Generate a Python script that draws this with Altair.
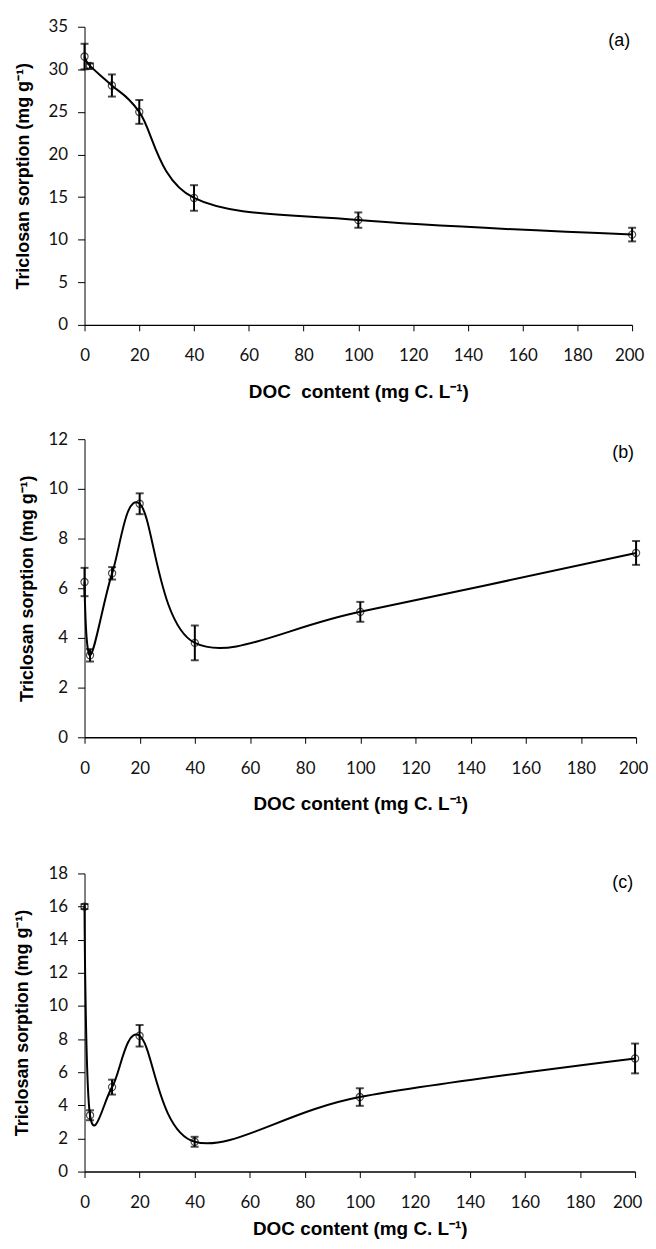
import altair as alt
import pandas as pd

# DOC content (mg C L-1)
doc = [0, 2, 10, 20, 40, 100, 200]

# Panel (a)
a_mean = [31.5, 30.4, 28.1, 25.0, 14.9, 12.3, 10.6]
a_err = [1.5, 0.3, 1.3, 1.4, 1.5, 0.9, 0.8]

# Panel (b)
b_mean = [6.25, 3.3, 6.6, 9.4, 3.8, 5.05, 7.42]
b_err = [0.57, 0.25, 0.25, 0.42, 0.7, 0.4, 0.48]

# Panel (c)
c_mean = [16.0, 3.4, 5.1, 8.2, 1.8, 4.5, 6.83]
c_err = [0.15, 0.3, 0.45, 0.65, 0.3, 0.53, 0.9]

x_ticks = [0, 20, 40, 60, 80, 100, 120, 140, 160, 180, 200]

Y_TITLE = "Triclosan sorption (mg g\u207b\u00b9)"
X_TITLE_A = "DOC\u00a0 content (mg C. L\u207b\u00b9)"
X_TITLE = "DOC content (mg C. L\u207b\u00b9)"

LABEL_FONT = "Lato"
TITLE_FONT = "Liberation Sans"


def panel(mean, err, ymax, ystep, width, tag, xtitle, ytitle_pad,
          last_shift, xtitle_pad=19, extend_top=None, tag_y=14):
    df = pd.DataFrame({"doc": doc, "mean": mean, "err": err})
    df["lo"] = df["mean"] - df["err"]
    df["hi"] = df["mean"] + df["err"]
    base = alt.Chart(df)

    xscale = alt.Scale(domain=[0, 200], nice=False, zero=False)
    yscale = alt.Scale(domain=[0, ymax], nice=False)
    xaxis = alt.Axis(
        values=x_ticks, title=xtitle, grid=False, tickSize=6,
        labelPadding=17, titlePadding=xtitle_pad, domainWidth=1.5,
        labelFlush=False, titleFontSize=19,
        labelOffset={"condition": {"test": "datum.value == 200",
                                   "value": -last_shift},
                     "value": 0},
    )
    yaxis = alt.Axis(
        values=list(range(0, ymax + 1, ystep)), title=Y_TITLE, grid=False,
        tickSize=7, labelPadding=10, titlePadding=ytitle_pad,
        labelFlush=False, titleFontSize=18,
    )
    x = alt.X("doc:Q", scale=xscale, axis=xaxis)

    def y(f):
        return alt.Y(f"{f}:Q", scale=yscale, axis=yaxis)

    line = base.mark_line(
        interpolate="cardinal", color="black", strokeWidth=2
    ).encode(x=x, y=y("mean"))
    rules = base.mark_rule(color="black", strokeWidth=2).encode(
        x=x, y=y("lo"), y2="hi:Q"
    )
    caps_hi = base.mark_tick(
        orient="horizontal", color="black", size=8, thickness=2
    ).encode(x=x, y=y("hi"))
    caps_lo = base.mark_tick(
        orient="horizontal", color="black", size=8, thickness=2
    ).encode(x=x, y=y("lo"))
    pts = base.mark_point(
        shape="circle", filled=False, color="black", size=52, strokeWidth=1.2
    ).encode(x=x, y=y("mean"))

    lab = alt.Chart(pd.DataFrame({"t": [tag]})).mark_text(
        align="right", baseline="middle", font="Liberation Sans",
        fontSize=18, color="black",
    ).encode(text="t:N", x=alt.value(width - 2), y=alt.value(tag_y))

    layers = [line, rules, caps_hi, caps_lo, pts, lab]
    if extend_top is not None:
        ghost = alt.Chart(pd.DataFrame({"t": ["."]})).mark_text(
            baseline="top", fontSize=10, opacity=0
        ).encode(text="t:N", x=alt.value(width / 2), y=alt.value(-extend_top))
        layers.append(ghost)

    return alt.layer(*layers).properties(width=width, height=300)


pa = panel(a_mean, a_err, 35, 5, 551, "(a)", X_TITLE_A, 15.5, 3, tag_y=14)
pb = panel(b_mean, b_err, 12, 2, 555, "(b)", X_TITLE, 11.5, 3, tag_y=14)
pc = panel(c_mean, c_err, 18, 2, 554, "(c)", X_TITLE, 17, 8,
           xtitle_pad=9, extend_top=31, tag_y=10)

chart = alt.concat(pa, pb, pc, columns=1, spacing=29, align="none").properties(
    padding={"top": 6, "left": 5, "right": 0, "bottom": 0},
    background="white",
).configure_view(
    stroke=None
).configure_axis(
    labelFont=LABEL_FONT, labelFontSize=17, labelColor="#111111",
    titleFont=TITLE_FONT, titleFontWeight="bold",
    titleColor="black", tickColor="black", domainColor="black",
)

chart.save("out.html", embed_options={"renderer": "svg", "actions": False})
